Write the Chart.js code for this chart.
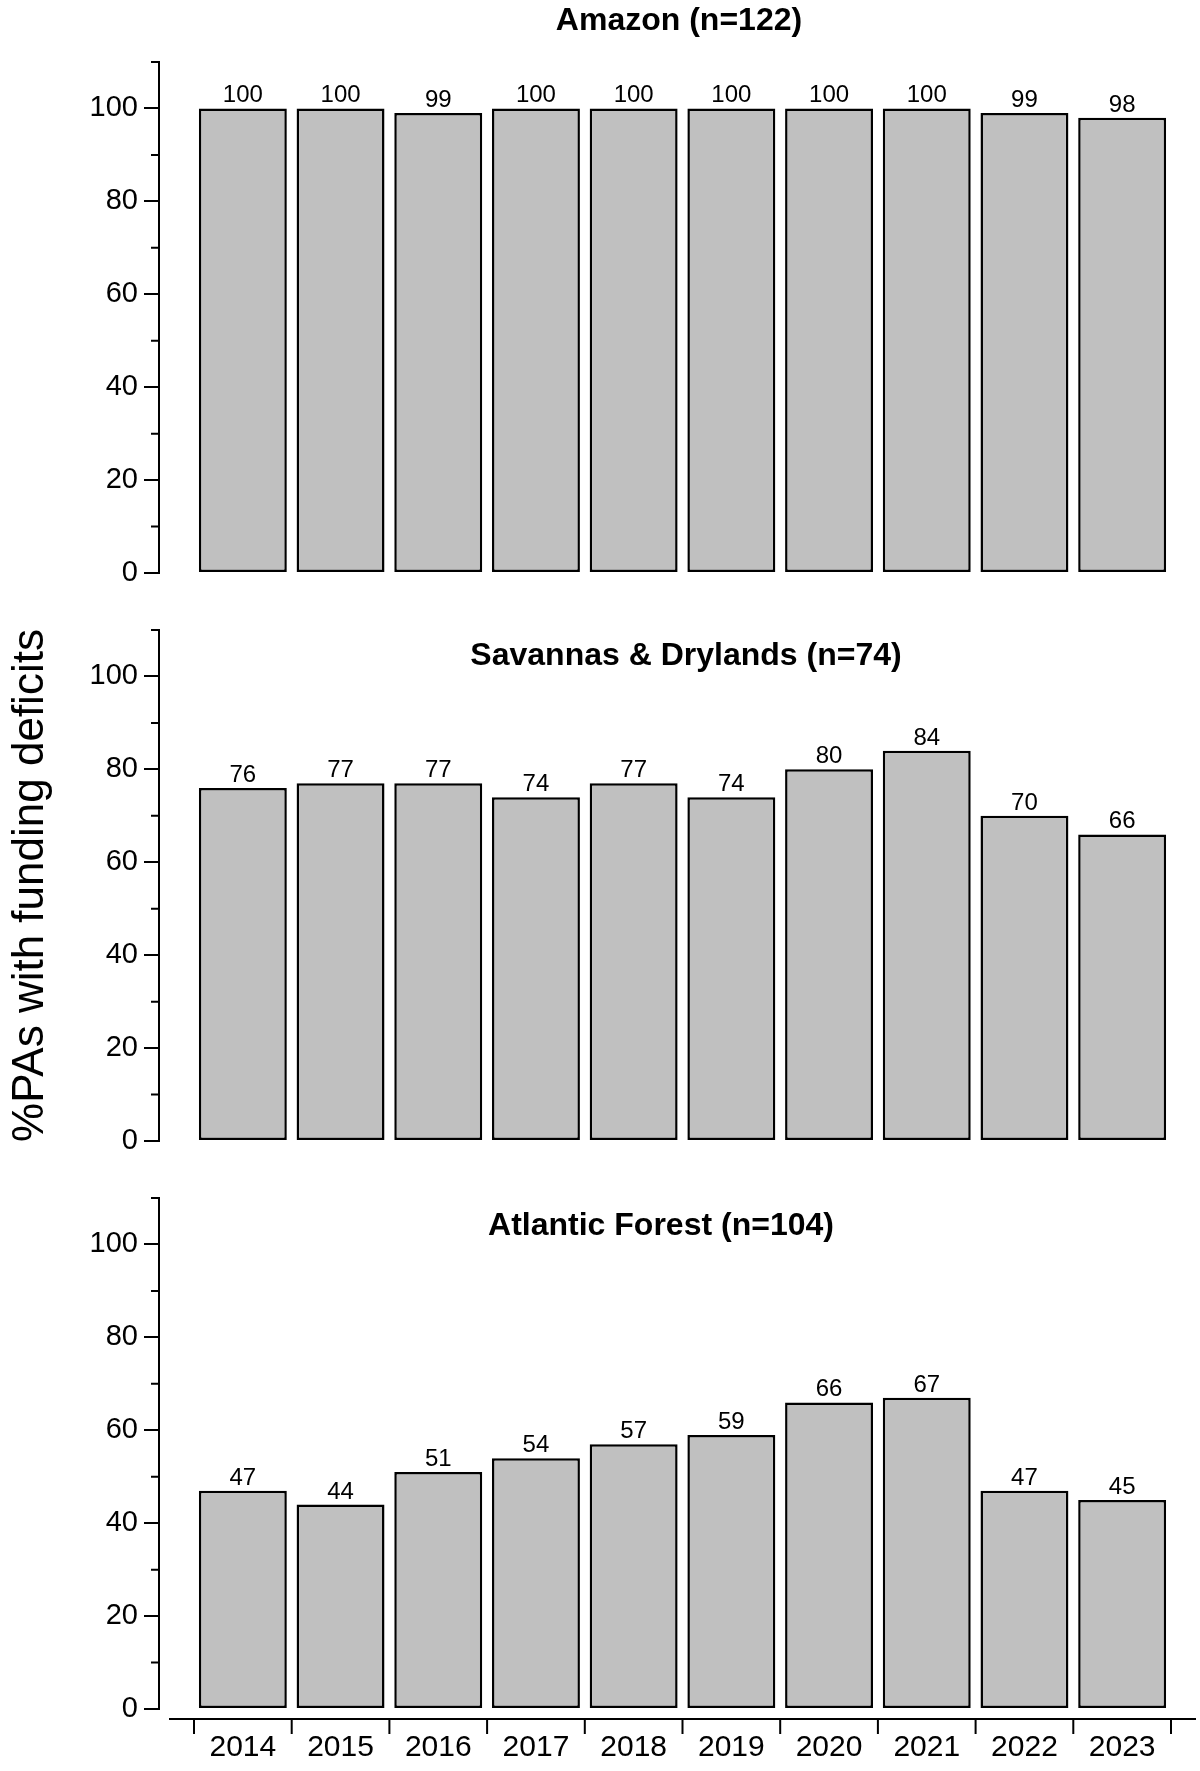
<!DOCTYPE html>
<html>
<head>
<meta charset="utf-8">
<script src="https://cdn.jsdelivr.net/npm/chart.js@4.4.0/dist/chart.umd.min.js"></script>
<style>
  body { margin: 0; background: #fff; }
  #wrap { position: relative; width: 1200px; height: 1771px; }
  canvas { position: absolute; left: 0; }
</style>
</head>
<body>
<div id="wrap">
  <canvas id="chart1" width="1200" height="600" style="top:0px"></canvas>
  <canvas id="chart2" width="1200" height="600" style="top:568px"></canvas>
  <canvas id="chart3" width="1200" height="635" style="top:1136px"></canvas>
</div>
<script>
var FONT = '"Liberation Sans", Arial, Helvetica, sans-serif';

var years = ['2014', '2015', '2016', '2017', '2018', '2019', '2020', '2021', '2022', '2023'];
var amazon = [100, 100, 99, 100, 100, 100, 100, 100, 99, 98];
var savannas = [76, 77, 77, 74, 77, 74, 80, 84, 70, 66];
var atlantic = [47, 44, 51, 54, 57, 59, 66, 67, 47, 45];
var yTicks = [0, 20, 40, 60, 80, 100];
var yMinorTicks = [10, 30, 50, 70, 90, 110];
var panelTitles = ['Amazon (n=122)', 'Savannas & Drylands (n=74)', 'Atlantic Forest (n=104)'];
var yTitle = '%PAs with funding deficits';

// minor ticks, bar value labels, panel title and the detached x axis
var decor = {
    id: 'decor',
    afterDraw: function (chart, args, opts) {
        var ctx = chart.ctx;
        var x = chart.scales.x, y = chart.scales.y;
        ctx.save();
        ctx.strokeStyle = '#000';
        ctx.lineWidth = 2;
        ctx.beginPath();
        yMinorTicks.forEach(function (v) {
            var py = y.getPixelForValue(v);
            ctx.moveTo(y.right - 8, py);
            ctx.lineTo(y.right, py);
        });
        ctx.stroke();

        ctx.fillStyle = '#000';
        ctx.font = '24px ' + FONT;
        ctx.textAlign = 'center';
        ctx.textBaseline = 'alphabetic';
        var values = chart.data.datasets[0].data;
        chart.getDatasetMeta(0).data.forEach(function (bar, i) {
            ctx.fillText(values[i], bar.x, bar.y - 6);
        });

        ctx.font = 'bold 32px ' + FONT;
        ctx.textBaseline = 'middle';
        ctx.fillText(opts.text, opts.x, opts.y);

        if (opts.xAxisLine) {
            var step = x.getPixelForValue(1) - x.getPixelForValue(0);
            var base = chart.chartArea.bottom + 10;
            ctx.beginPath();
            ctx.moveTo(x.left - 25, base);
            ctx.lineTo(x.right + 25, base);
            for (var i = 0; i <= chart.data.labels.length; i++) {
                var px = x.getPixelForValue(0) + (i - 0.5) * step;
                ctx.moveTo(px, base);
                ctx.lineTo(px, base + 15);
            }
            ctx.stroke();
        }
        ctx.restore();
    }
};

function makePanel(id, values, title, titleX, titleY, last, showYTitle) {
    var ctx = document.getElementById(id).getContext('2d');
    return new Chart(ctx, {
        type: 'bar',
        data: {
            labels: years,
            datasets: [{
                data: values,
                backgroundColor: '#c0c0c0',
                borderColor: '#000',
                borderWidth: 2.5,
                borderSkipped: false,
                barPercentage: 0.9,
                categoryPercentage: 1.0
            }]
        },
        plugins: [decor],
        options: {
            responsive: false,
            animation: false,
            devicePixelRatio: 1,
            layout: { padding: { left: 0, right: 29, top: 62, bottom: last ? 0 : 27 } },
            plugins: {
                legend: { display: false },
                tooltip: { enabled: false },
                decor: { text: title, x: titleX, y: titleY, xAxisLine: last }
            },
            scales: {
                x: {
                    display: last,
                    grid: { display: false, drawTicks: false },
                    border: { display: false },
                    ticks: { color: '#000', font: { family: FONT, size: 30 }, padding: 21 },
                    afterFit: function (s) { s.height = last ? 62 : 0; }
                },
                y: {
                    position: 'left',
                    weight: 1,
                    min: 0,
                    max: 110,
                    afterBuildTicks: function (s) {
                        s.ticks = yTicks.map(function (v) { return { value: v }; });
                    },
                    afterFit: function (s) { s.width = 159; },
                    grid: { drawOnChartArea: false, tickLength: 15, lineWidth: 2, color: '#000' },
                    border: { display: true, width: 2, color: '#000' },
                    ticks: { color: '#000', font: { family: FONT, size: 29 }, padding: 6 },
                    title: {
                        display: showYTitle,
                        text: yTitle,
                        color: '#000',
                        font: { family: FONT, size: 44 },
                        padding: { top: 4, bottom: 0 }
                    }
                },
                spacer: {
                    type: 'linear',
                    axis: 'y',
                    position: 'left',
                    weight: 0,
                    grid: { display: false, drawTicks: false },
                    border: { display: false },
                    ticks: { display: false },
                    afterFit: function (s) { s.width = 35; }
                }
            }
        }
    });
}

var chart1 = makePanel('chart1', amazon, panelTitles[0], 679, 21, false, false);
var chart2 = makePanel('chart2', savannas, panelTitles[1], 686, 88, false, true);
var chart3 = makePanel('chart3', atlantic, panelTitles[2], 661, 90, true, false);
</script>
</body>
</html>
